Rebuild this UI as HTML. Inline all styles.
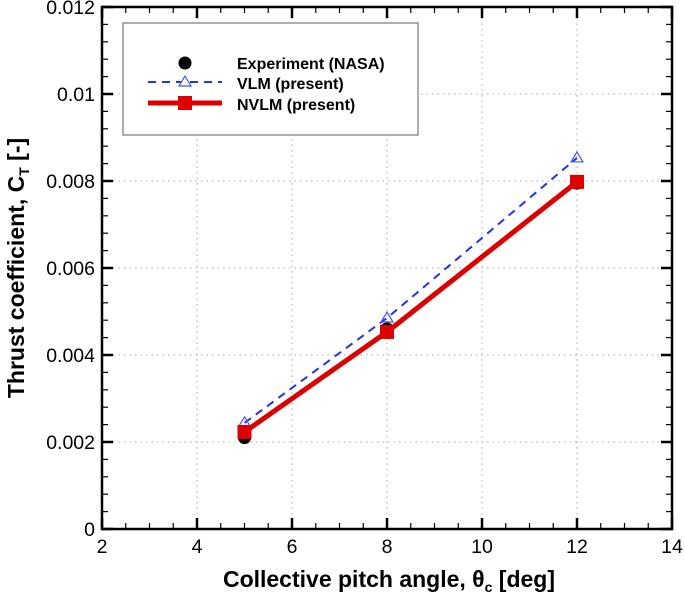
<!DOCTYPE html>
<html><head><meta charset="utf-8"><style>
body{margin:0;background:#fff}
svg text{font-family:"Liberation Sans",sans-serif}
</style></head><body>
<svg id="chart" width="685" height="596" xmlns="http://www.w3.org/2000/svg">
<g id="grid"></g>
<g id="axes"></g>
<g id="series"></g>
<text x="389" y="587" text-anchor="middle" font-size="23" font-weight="bold">Collective pitch angle, θ<tspan font-size="14" dy="5">c</tspan><tspan dy="-5"> [deg]</tspan></text>
<text transform="translate(24,268) rotate(-90)" text-anchor="middle" font-size="23" font-weight="bold">Thrust coefficient, C<tspan font-size="14" dy="5">T</tspan><tspan dy="-5"> [-]</tspan></text>
<g>
<rect x="123" y="23" width="295" height="112" fill="#fff" stroke="#777" stroke-width="1.2"/>
<circle cx="185" cy="63" r="6.5" fill="#000"/>
<text x="237" y="69" font-size="16" font-weight="bold">Experiment (NASA)</text>
<line x1="148" y1="82" x2="222" y2="82" stroke="#2233ee" stroke-width="2" stroke-dasharray="8,6"/>
<polygon points="185,76 191,86 179,86" fill="#fff" stroke="#4455ff" stroke-width="1.2"/>
<text x="237" y="89" font-size="16" font-weight="bold">VLM (present)</text>
<line x1="148" y1="103" x2="222" y2="103" stroke="#dd0000" stroke-width="5"/>
<rect x="178" y="96" width="14" height="14" fill="#dd0000"/>
<text x="237" y="110" font-size="16" font-weight="bold">NVLM (present)</text>
</g>
</svg>
<script>
const pitch=[5,8,12];
const expCT=[0.0021,0.0046,0.00795];
const vlmCT=[0.00244,0.00485,0.00853];
const nvlmCT=[0.00223,0.00453,0.00798];
const xTicks=[2,4,6,8,10,12,14];
const yTicks=[0,0.002,0.004,0.006,0.008,0.01,0.012];
const yTickLabels=["0","0.002","0.004","0.006","0.008","0.01","0.012"];
const L=102,R=672,T=7,B=529;
const sx=v=>L+(v-2)/12*(R-L);
const sy=v=>B-v/0.012*(B-T);
const NS="http://www.w3.org/2000/svg";
function mk(p,tag,attrs){const e=document.createElementNS(NS,tag);for(const k in attrs)e.setAttribute(k,attrs[k]);p.appendChild(e);return e;}
const grid=document.getElementById('grid'),axes=document.getElementById('axes'),series=document.getElementById('series');
xTicks.slice(1,-1).forEach(v=>{const l=mk(grid,'line',{x1:sx(v),x2:sx(v),y1:T,y2:B,stroke:'#aaa','stroke-width':1,'stroke-dasharray':'1.5,4'});

});
yTicks.slice(1,-1).forEach(v=>{const l=mk(grid,'line',{x1:L,x2:R,y1:sy(v),y2:sy(v),stroke:'#aaa','stroke-width':1,'stroke-dasharray':'1.5,4'});

});
for(let v=2;v<=14.001;v+=0.5){const maj=Math.abs(v-Math.round(v/2)*2)<1e-6;const len=maj?11:6;
mk(axes,'line',{x1:sx(v),x2:sx(v),y1:B,y2:B-len,stroke:'#000','stroke-width':maj?2.5:1.2});
mk(axes,'line',{x1:sx(v),x2:sx(v),y1:T,y2:T+len,stroke:'#000','stroke-width':maj?2.5:1.2});}
for(let i=0;i<=30;i++){const v=i*0.0004;const maj=i%5==0;const len=maj?11:6;
mk(axes,'line',{x1:L,x2:L+len,y1:sy(v),y2:sy(v),stroke:'#000','stroke-width':maj?2.5:1.2});
mk(axes,'line',{x1:R,x2:R-len,y1:sy(v),y2:sy(v),stroke:'#000','stroke-width':maj?2.5:1.2});}
const fr=mk(axes,'rect',{x:L,y:T,width:R-L,height:B-T,fill:'none',stroke:'#000','stroke-width':2.5});


xTicks.forEach(v=>{const t=mk(axes,'text',{x:sx(v),y:B+24,'text-anchor':'middle','font-size':19.5});t.textContent=v;

});
yTicks.forEach((v,i)=>{const t=mk(axes,'text',{x:L-7,y:sy(v)+7,'text-anchor':'end','font-size':19.5});t.textContent=yTickLabels[i];

});
const pts=a=>pitch.map((p,i)=>sx(p)+','+sy(a[i])).join(' ');
pitch.forEach((p,i)=>{const c=mk(series,'circle',{cx:sx(p),cy:sy(expCT[i]),r:6.5,fill:'#000'});

});
const vl=mk(series,'polyline',{points:pts(vlmCT),fill:'none',stroke:'#2233ee','stroke-width':2,'stroke-dasharray':'8,6'});


const nl=mk(series,'polyline',{points:pts(nvlmCT),fill:'none',stroke:'#dd0000','stroke-width':5});


pitch.forEach((p,i)=>{const x=sx(p),y=sy(vlmCT[i]);const t=mk(series,'polygon',{points:`${x},${y-6} ${x+6},${y+4} ${x-6},${y+4}`,fill:'none',stroke:'#4455ff','stroke-width':1.2});

});
pitch.forEach((p,i)=>{const r=mk(series,'rect',{x:sx(p)-7,y:sy(nvlmCT[i])-7,width:14,height:14,fill:'#dd0000'});

});
</script>
</body></html>
